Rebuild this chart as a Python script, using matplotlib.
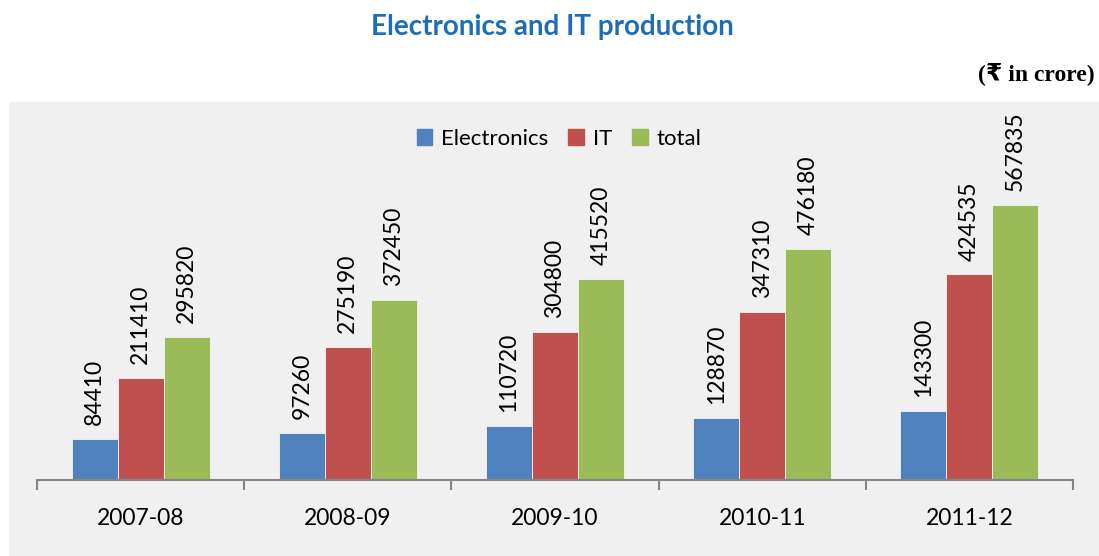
import matplotlib.pyplot as plt
import matplotlib.patches as mpatches
import numpy as np

years = ["2007-08", "2008-09", "2009-10", "2010-11", "2011-12"]
electronics = [84410, 97260, 110720, 128870, 143300]
it = [211410, 275190, 304800, 347310, 424535]
total = [295820, 372450, 415520, 476180, 567835]

series = [("Electronics", electronics, "#4F81BD"),
          ("IT", it, "#C0504D"),
          ("total", total, "#9BBB59")]

W, H = 1099, 556
fig = plt.figure(figsize=(W / 100, H / 100), dpi=100)
fig.patch.set_facecolor("white")

# grey chart panel
fig.patches.append(mpatches.Rectangle((9 / W, 0), 1 - 9 / W, 1 - 102 / H,
                                      transform=fig.transFigure,
                                      facecolor="#F0F0F0", edgecolor="none",
                                      zorder=-10))

base_font = ["Lato", "DejaVu Sans"]

# axes: x 37..1073, baseline at y=480
ax_top = 130
ax = fig.add_axes([37 / W, (H - 480) / H, (1073 - 37) / W, (480 - ax_top) / H])
ax.set_facecolor("none")
scale = 567835 / (480 - 205)
ax.set_ylim(0, (480 - ax_top) * scale)
ax.set_xlim(-0.5, len(years) - 0.5)

x = np.arange(len(years))
bw = 46 / 207.2
for k, (name, vals, col) in enumerate(series):
    pos = x + (k - 1) * bw
    ax.bar(pos, vals, width=bw, color=col, edgecolor="#F4F4F4",
           linewidth=0.6, label=name, zorder=2)
    for px, v in zip(pos, vals):
        ax.annotate(str(v), (px, v), xytext=(0, 10), textcoords="offset points",
                    rotation=90, ha="center", va="bottom", fontsize=16.5,
                    family=base_font, color="black", annotation_clip=False)

for s in ["top", "right", "left"]:
    ax.spines[s].set_visible(False)
ax.spines["bottom"].set_color("#868686")
ax.spines["bottom"].set_linewidth(1.5)
ax.set_yticks([])
ax.set_xticks(np.arange(-0.5, len(years), 1.0), minor=False)
ax.set_xticklabels([])
ax.tick_params(axis="x", which="major", length=7, width=1.5, color="#868686")
ax.set_xticks(x, minor=True)
ax.set_xticklabels(years, minor=True, fontsize=16.5, family=base_font)
ax.tick_params(axis="x", which="minor", length=0, pad=20)

handles = [mpatches.Patch(color=c, label=n) for n, _, c in series]
fig.legend(handles=handles, loc="center", bbox_to_anchor=(559 / W, 1 - 139 / H),
           ncol=3, frameon=False, prop={"family": base_font, "size": 16},
           handlelength=0.7, handleheight=0.7, handletextpad=0.4,
           columnspacing=0.9)

fig.text(552 / W, 1 - 27 / H, "Electronics and IT production", ha="center",
         va="center", fontsize=20, fontweight="bold", color="#1F6EB5",
         family=base_font)
fig.text(1095 / W, 1 - 74 / H, "(₹ in crore)", ha="right", va="center",
         fontsize=17, fontweight="bold",
         family=["Liberation Serif", "DejaVu Sans"])

fig.savefig("out.png", dpi=100)
